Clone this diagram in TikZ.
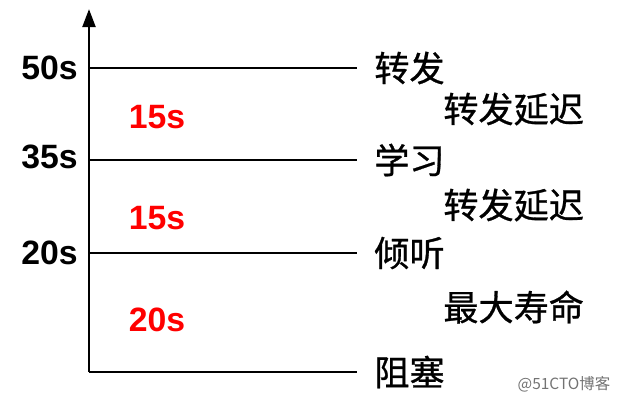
\documentclass[tikz,border=0pt]{standalone}
\usepackage{fontspec}
\setmainfont{Liberation Sans}
\newfontfamily\cjk[FakeBold=0.8]{Noto Sans CJK SC}
\newfontfamily\cjklight{Noto Sans CJK SC}
\usetikzlibrary{arrows.meta,positioning}
\tikzset{>={Triangle[length=0.45cm,width=0.32cm]}}
\tikzset{
  tick/.style={font=\fontsize{24}{24}\selectfont\bfseries, anchor=east, inner sep=0pt},
  gap/.style={font=\fontsize{24}{24}\selectfont\bfseries, text=red, inner sep=0pt},
  state/.style={font=\cjk\fontsize{25}{25}\selectfont, anchor=west, inner sep=0pt},
  delay/.style={font=\cjk\fontsize{25}{25}\selectfont, anchor=west, inner sep=0pt},
  mark51/.style={font=\cjklight\fontsize{11}{11}\selectfont, text=black!55, inner sep=0pt}
}
\begin{document}
\begin{tikzpicture}[x=0.025cm,y=-0.025cm,line width=1.9pt]
    \useasboundingbox (0,0) rectangle (624,402);
    \coordinate (o) at (89,372);
    \coordinate (top) at (89,9);
    \draw[->] (o)--(top);
    % states and time marks
    \foreach \N/\Y/\L/\T/\S in {a/68/68/50s/转发, b/160/157/35s/学习, c/253/253/20s/倾听}
    {\node[tick] (t\N) at (79,\L) {\T};
    \node[state] (s\N) at (373,\Y) {\S};
    \draw[shorten >=0.4cm] (o |- s\N.west)--(s\N.west);
    }
    \node[state] (sd) at (373,372) {阻塞};
    \draw[shorten >=0.4cm] (o)--(sd.west);
    % durations
    \foreach \N/\Y/\T in {1/117/15s, 2/218/15s, 3/320/20s}
    {\node[gap] (g\N) at (157,\Y) {\T};}
    \foreach \N/\Y/\T in {1/109/转发延迟, 2/205/转发延迟, 3/307/最大寿命}
    {\node[delay] (d\N) at (442,\Y) {\T};}
    \node[mark51] (wm) at (564,384) {@51CTO博客};
\end{tikzpicture}
\end{document}
